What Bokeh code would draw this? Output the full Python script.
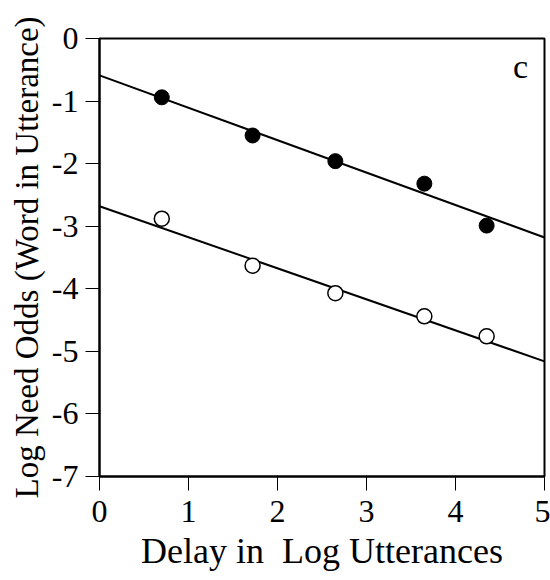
from bokeh.plotting import figure
from bokeh.models import Range1d, FixedTicker, Label, PrintfTickFormatter
from bokeh.embed import file_html
from bokeh.resources import INLINE

# Data
delay = [0.70, 1.72, 2.65, 3.65, 4.35]
filled_odds = [-0.94, -1.55, -1.96, -2.32, -2.99]
open_odds = [-2.88, -3.63, -4.07, -4.44, -4.76]

fit_intercepts = [-0.59, -2.68]
fit_slopes = [-0.518, -0.496]

x_ticks = [0, 1, 2, 3, 4, 5]
y_ticks = [0, -1, -2, -3, -4, -5, -6, -7]

FONT = "Liberation Serif"

p = figure(width=550, height=580, output_backend="svg", toolbar_location=None,
           x_range=Range1d(0, 5), y_range=Range1d(-7, 0),
           min_border_left=99, min_border_right=6, min_border_top=38, min_border_bottom=104)

p.xgrid.visible = False
p.ygrid.visible = False
p.outline_line_color = "black"
p.outline_line_width = 2
p.background_fill_color = "white"
p.border_fill_color = "white"

# regression lines
fit_x = [p.x_range.start, p.x_range.end]
for a, b in zip(fit_intercepts, fit_slopes):
    p.line(fit_x, [a + b * x for x in fit_x], line_color="black", line_width=2)

p.scatter(delay, filled_odds, size=15, fill_color="black", line_color="black")
p.scatter(delay, open_odds, size=15, fill_color="white", line_color="black", line_width=1.5)

for ax in (p.xaxis[0], p.yaxis[0]):
    ax.axis_line_width = 2
    ax.major_tick_line_width = 1
    ax.major_tick_out = 14
    ax.major_tick_in = 0
    ax.minor_tick_line_color = None
    ax.major_label_text_font = FONT
    ax.major_label_text_font_size = "32px"
    ax.major_label_text_color = "black"
    ax.axis_label_text_font = FONT
    ax.axis_label_text_font_style = "normal"
    ax.axis_label_text_color = "black"

p.xaxis.ticker = FixedTicker(ticks=x_ticks)
p.yaxis.ticker = FixedTicker(ticks=y_ticks)
p.xaxis.formatter = PrintfTickFormatter(format="%d")
p.yaxis.formatter = PrintfTickFormatter(format="%d")
p.xaxis.axis_label = "Delay in\u00a0 Log Utterances"
p.yaxis.axis_label = "Log Need Odds (Word in Utterance)"
p.xaxis.axis_label_text_font_size = "36px"
p.yaxis.axis_label_text_font_size = "33px"
p.xaxis.major_label_standoff = 10
p.yaxis.major_label_standoff = 7
p.xaxis.axis_label_standoff = 6
p.yaxis.axis_label_standoff = 4

p.add_layout(Label(x=4.73, y=-0.44, text="c", text_font=FONT, text_font_size="34px",
                   text_align="center", text_baseline="middle", text_color="black"))

open("out.html", "w").write(file_html(p, INLINE))
